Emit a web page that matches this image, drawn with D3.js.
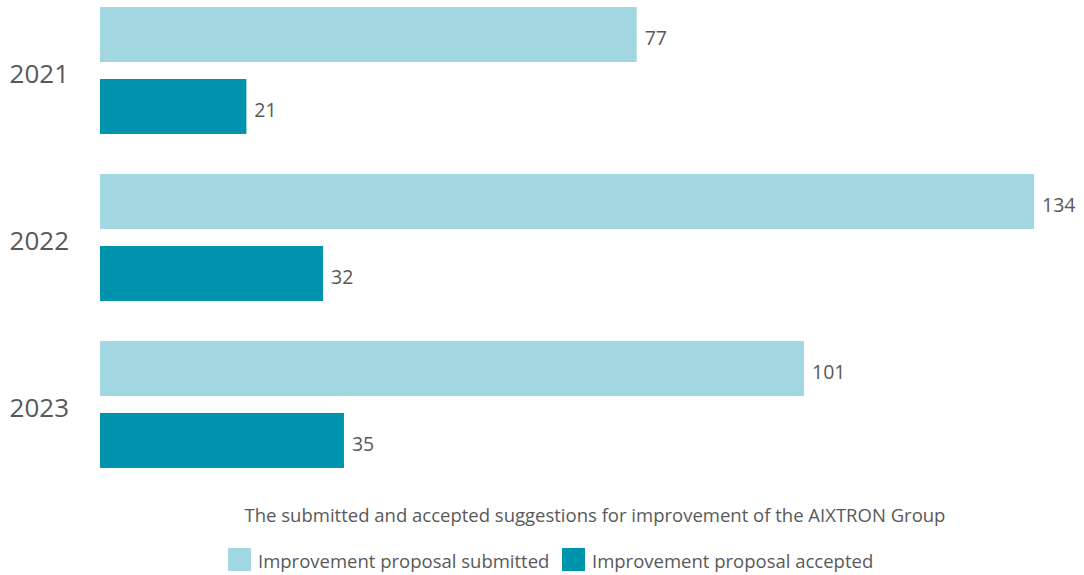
<!DOCTYPE html>
<html>
<head>
	<meta charset="utf-8">
	<script src="https://d3js.org/d3.v7.min.js"></script>
	<style>
		body { margin: 0; background: #fff; }
		text { font-family: "Open Sans", sans-serif; fill: #595959; }
	</style>
</head>
<body>
	<div id="graph"></div>

<script>

// data
var years = ["2021", "2022", "2023"];
var seriesNames = ["Improvement proposal submitted", "Improvement proposal accepted"];
var submitted = [77, 134, 101];
var accepted = [21, 32, 35];
var caption = "The submitted and accepted suggestions for improvement of the AIXTRON Group";

var colors = ["#a2d7e2", "#0093ae"];

var width = 1084, height = 575;

var svg = d3.select("#graph")
  .append("svg")
    .attr("width", width)
    .attr("height", height);

// year groups
var y = d3.scaleBand()
  .domain(years)
  .range([-13, 488])
  .paddingInner(0.24)
  .paddingOuter(0.12);

// bars inside a group
var ySub = d3.scaleBand()
  .domain(seriesNames)
  .range([0, y.bandwidth()])
  .paddingInner(0.236);

var x = d3.scaleLinear()
  .domain([0, 134])
  .range([100, 1034]);

var color = d3.scaleOrdinal()
  .domain(seriesNames)
  .range(colors);

var rows = years.map(function(yr, i) {
  return { year: yr, values: [
    { name: seriesNames[0], value: submitted[i] },
    { name: seriesNames[1], value: accepted[i] }
  ]};
});

var group = svg.selectAll(".year")
  .data(rows)
  .enter().append("g")
    .attr("class", "year")
    .attr("transform", function(d) { return "translate(0," + y(d.year) + ")"; });

group.append("text")
  .attr("x", 69)
  .attr("y", y.bandwidth() / 2 + 3)
  .attr("dy", "0.35em")
  .attr("text-anchor", "end")
  .attr("font-size", "26px")
  .text(function(d) { return d.year; });

var bar = group.selectAll(".bar")
  .data(function(d) { return d.values; })
  .enter().append("g")
    .attr("class", "bar");

bar.append("rect")
  .attr("x", x(0))
  .attr("y", function(d) { return ySub(d.name); })
  .attr("width", function(d) { return x(d.value) - x(0); })
  .attr("height", ySub.bandwidth())
  .attr("fill", function(d) { return color(d.name); });

bar.append("text")
  .attr("x", function(d) { return x(d.value) + 8; })
  .attr("y", function(d) { return ySub(d.name) + ySub.bandwidth() / 2 + 4; })
  .attr("dy", "0.35em")
  .attr("font-size", "19.5px")
  .text(function(d) { return d.value; });

// caption
svg.append("text")
  .attr("x", 595)
  .attr("y", 522)
  .attr("text-anchor", "middle")
  .attr("font-size", "18.5px")
  .text(caption);

// legend
var legendX = [228, 562];
var legend = svg.selectAll(".legend")
  .data(seriesNames)
  .enter().append("g")
    .attr("class", "legend")
    .attr("transform", function(d, i) { return "translate(" + legendX[i] + ",548)"; });

legend.append("rect")
  .attr("width", 23)
  .attr("height", 23)
  .attr("fill", function(d) { return color(d); });

legend.append("text")
  .attr("x", 30)
  .attr("y", 20)
  .attr("font-size", "18.5px")
  .text(function(d) { return d; });

</script>
</body>
</html>
